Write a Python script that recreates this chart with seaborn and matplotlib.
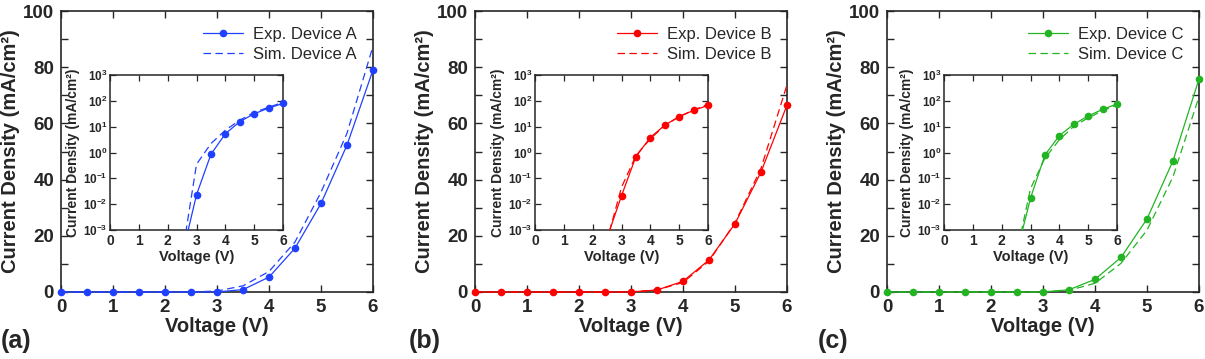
import pandas as pd
import matplotlib
matplotlib.use('Agg')
import matplotlib.pyplot as plt
import matplotlib.ticker as mticker
import seaborn as sns

# Data (current density in mA/cm^2)
volts = [0, 0.5, 1, 1.5, 2, 2.5, 3, 3.5, 4, 4.5, 5, 5.5, 6]

exp_a = [1e-9, 1e-8, 1e-7, 1e-6, 1e-5, 1e-4, 0.023, 0.85, 5.3, 15.6, 31.5, 52.3, 79.0]
sim_a = [1e-9, 1e-8, 1e-7, 1e-6, 1e-5, 1e-4, 0.35, 2.2, 7.3, 17.8, 35.5, 56.5, 87.5]

exp_b = [1e-9, 1e-8, 1e-7, 1e-6, 1e-5, 5e-4, 0.021, 0.70, 3.8, 11.4, 24.3, 42.7, 66.5]
sim_b = [1e-9, 1e-8, 1e-7, 1e-6, 1e-5, 4e-4, 0.045, 0.75, 3.4, 11.0, 24.6, 44.0, 73.7]

exp_c = [1e-9, 1e-8, 1e-7, 1e-6, 1e-5, 1e-4, 0.017, 0.80, 4.5, 12.3, 26.0, 46.7, 75.8]
sim_c = [1e-9, 1e-8, 1e-7, 1e-6, 1e-5, 1e-4, 0.040, 0.60, 3.1, 10.2, 22.0, 41.0, 69.5]

devices = ['A', 'B', 'C']
colors = ['#2040ff', '#ff0000', '#22b422']
panel_tags = ['(a)', '(b)', '(c)']
log_ticks = [1e-3, 1e-2, 1e-1, 1e0, 1e1, 1e2, 1e3]
log_labels = [r'$\mathbf{10^{%d}}$' % e for e in range(-3, 4)]

sns.set_theme(style='ticks')
plt.rcParams['font.family'] = ['Liberation Sans', 'DejaVu Sans']
plt.rcParams['font.weight'] = 'bold'
plt.rcParams['mathtext.fontset'] = 'custom'
plt.rcParams['mathtext.bf'] = 'Liberation Sans:bold'
plt.rcParams['mathtext.rm'] = 'Liberation Sans:bold'

fig = plt.figure(figsize=(12.05, 3.59), dpi=100)

W, H = 1205.0, 359.0
main_left = [61, 475, 887]
inset_left = [110, 535, 944]
tag_x = [1, 409, 818]

series = [(exp_a, sim_a), (exp_b, sim_b), (exp_c, sim_c)]

for i, dev in enumerate(devices):
    col = colors[i]
    exp_vals, sim_vals = series[i]
    df = pd.DataFrame({'V': volts, 'exp': exp_vals, 'sim': sim_vals})

    # main linear plot
    ax = fig.add_axes([main_left[i] / W, 1 - 292 / H, 312 / W, 281 / H])
    sns.lineplot(data=df, x='V', y='exp', ax=ax, color=col, marker='o',
                 markersize=5.5, markeredgewidth=0, linewidth=0.9,
                 label=f'Exp. Device {dev}', clip_on=False, zorder=3)
    sns.lineplot(data=df, x='V', y='sim', ax=ax, color=col,
                 linestyle=(0, (6, 3.5)), linewidth=0.9,
                 label=f'Sim. Device {dev}', clip_on=False, zorder=3)
    ax.set_xlim(0, 6)
    ax.set_ylim(0, 100)
    ax.set_xticks(range(0, 7))
    ax.set_yticks(range(0, 101, 20))
    ax.yaxis.set_minor_locator(mticker.MultipleLocator(10))
    ax.tick_params(which='both', direction='in', top=True, right=True,
                   length=5, width=1, labelsize=13.5, pad=5)
    for lab in ax.get_xticklabels() + ax.get_yticklabels():
        lab.set_fontweight('bold')
    for sp in ax.spines.values():
        sp.set_linewidth(1.2)
    ax.set_xlabel('Voltage (V)', fontsize=14.5, fontweight='bold', labelpad=1)
    ax.set_ylabel('Current Density (mA/cm²)', fontsize=14.5,
                  fontweight='bold', labelpad=2)
    leg = ax.legend(loc='upper right', frameon=False, fontsize=12,
                    handlelength=2.4, handletextpad=0.6, labelspacing=0.3,
                    borderaxespad=0.55)
    for t in leg.get_texts():
        t.set_fontweight('normal')

    # log-scale inset
    ins = fig.add_axes([inset_left[i] / W, 1 - 230 / H, 173 / W, 155 / H])
    ins.set_yscale('log')
    sns.lineplot(data=df, x='V', y='exp', ax=ins, color=col,
                 linewidth=0.9, zorder=3)
    sns.lineplot(data=df, x='V', y='sim', ax=ins, color=col,
                 linestyle=(0, (6, 3.5)), linewidth=0.9, zorder=3)
    shown = df[df['exp'] >= 1e-3]
    sns.lineplot(data=shown, x='V', y='exp', ax=ins, color=col, marker='o',
                 markersize=5.5, markeredgewidth=0, linestyle='',
                 clip_on=False, zorder=4)
    ins.set_xlim(0, 6)
    ins.set_ylim(1e-3, 1e3)
    ins.set_xticks(range(0, 7))
    ins.set_yticks(log_ticks)
    ins.set_yticklabels(log_labels)
    ins.yaxis.set_minor_locator(mticker.NullLocator())
    ins.tick_params(which='both', direction='in', top=True, right=True,
                    length=4, width=0.9, labelsize=10, pad=3)
    ins.tick_params(axis='y', labelsize=8.5, pad=2)
    for lab in ins.get_xticklabels():
        lab.set_fontweight('bold')
    for sp in ins.spines.values():
        sp.set_linewidth(1.1)
    ins.set_xlabel('Voltage (V)', fontsize=10.5, fontweight='bold', labelpad=1)
    ins.set_ylabel('Current Density (mA/cm²)', fontsize=10,
                   fontweight='bold', labelpad=2)

    fig.text(tag_x[i] / W, 1 - 341 / H, panel_tags[i], fontsize=18,
             fontweight='bold', ha='left', va='center')

fig.savefig('out.png', dpi=100)
